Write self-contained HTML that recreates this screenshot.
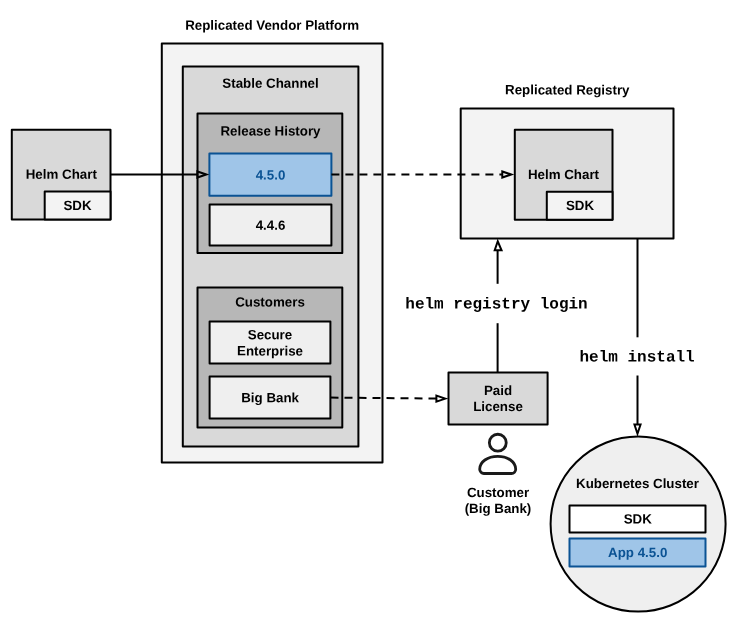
<!DOCTYPE html>
<html>
<head>
<meta charset="utf-8">
<title>Replicated Helm install diagram</title>
<style>
html,body{margin:0;padding:0;background:#fff;}
body{width:747px;height:634px;overflow:hidden;}
svg{display:block;will-change:transform;}
text{font-family:"Liberation Sans",Arial,sans-serif;font-weight:bold;font-size:13.33px;fill:#000;text-anchor:middle;text-rendering:geometricPrecision;}
text.mono{font-family:"Liberation Mono","Courier New",monospace;font-size:16px;}
text.blue{fill:#0b5394;}
.b{stroke:#000;stroke-width:2;stroke-linejoin:round;}
.bl{stroke:#0b5394;stroke-width:2;stroke-linejoin:round;fill:#9fc5e8;}
.l{stroke:#000;stroke-width:2;fill:none;}
.d{stroke:#000;stroke-width:2;fill:none;stroke-dasharray:8 6;}
.a{stroke:#000;stroke-width:2;fill:none;stroke-linejoin:miter;stroke-miterlimit:10;}
.p{stroke:#1a1a1a;stroke-width:2.8;fill:none;stroke-linejoin:round;}
</style>
</head>
<body>
<svg width="747" height="634" viewBox="0 0 747 634">
<rect x="0" y="0" width="747" height="634" fill="#fff"/>
<!-- Vendor platform -->
<text x="272.2" y="29.8" transform="rotate(0.03 272.2 29.8)">Replicated Vendor Platform</text>
<rect class="b" x="161.8" y="43.4" width="220.7" height="419.1" fill="#f3f3f3"/>
<rect class="b" x="182.8" y="66.5" width="175.6" height="380" fill="#d9d9d9"/>
<text x="270.5" y="87.7" transform="rotate(0.03 270.5 87.7)">Stable Channel</text>
<rect class="b" x="197.5" y="113.5" width="144.8" height="139.6" fill="#b7b7b7"/>
<text x="270.5" y="135.5" transform="rotate(0.03 270.5 135.5)">Release History</text>
<rect class="bl" x="209.4" y="153.6" width="122" height="42.2"/>
<text class="blue" x="270.5" y="179.4" transform="rotate(0.03 270.5 179.4)">4.5.0</text>
<rect class="b" x="209.6" y="204.5" width="121.8" height="41" fill="#efefef"/>
<text x="270.5" y="229.7" transform="rotate(0.03 270.5 229.7)">4.4.6</text>
<rect class="b" x="197.5" y="287.5" width="144.8" height="140" fill="#b7b7b7"/>
<text x="270" y="306.5" transform="rotate(0.03 270 306.5)">Customers</text>
<rect class="b" x="209.6" y="321.5" width="120.8" height="42" fill="#efefef"/>
<text x="270" y="339.3" transform="rotate(0.03 270 339.3)">Secure</text>
<text x="270" y="355.4" transform="rotate(0.03 270 355.4)">Enterprise</text>
<rect class="b" x="209.6" y="376.5" width="120.8" height="42" fill="#efefef"/>
<text x="270.1" y="402.2" transform="rotate(0.03 270.1 402.2)">Big Bank</text>
<!-- Helm chart (source) -->
<rect class="b" x="11.8" y="129.65" width="98.7" height="89.75" fill="#d9d9d9"/>
<text x="61.3" y="178.8" transform="rotate(0.03 61.3 178.8)">Helm Chart</text>
<rect class="b" x="44.7" y="191.5" width="65.8" height="27.9" fill="#f3f3f3"/>
<text x="77.5" y="210" transform="rotate(0.03 77.5 210)">SDK</text>
<!-- Registry -->
<text x="567.3" y="94.4" transform="rotate(0.03 567.3 94.4)">Replicated Registry</text>
<rect class="b" x="460.7" y="108.5" width="212.8" height="130" fill="#f3f3f3"/>
<rect class="b" x="514.8" y="129.8" width="97.7" height="89.9" fill="#d9d9d9"/>
<text x="563.5" y="179" transform="rotate(0.03 563.5 179)">Helm Chart</text>
<rect class="b" x="546.8" y="191.7" width="65.7" height="28" fill="#f3f3f3"/>
<text x="580" y="210" transform="rotate(0.03 580 210)">SDK</text>
<!-- Paid license -->
<rect class="b" x="448.5" y="372.5" width="99.1" height="52" fill="#d9d9d9"/>
<text x="498" y="395" transform="rotate(0.03 498 395)">Paid</text>
<text x="498" y="411" transform="rotate(0.03 498 411)">License</text>
<!-- Customer -->
<circle class="p" cx="497.8" cy="442.7" r="8.45"/>
<path class="p" d="M484 473.5 H511.5 a4.2 4.2 0 0 0 4.2 -4.2 c0 -7.6 -7.9 -12.9 -18 -12.9 s-18 5.3 -18 12.9 a4.2 4.2 0 0 0 4.3 4.2 z"/>
<text x="498" y="497" transform="rotate(0.03 498 497)">Customer</text>
<text x="498" y="513" transform="rotate(0.03 498 513)">(Big Bank)</text>
<!-- Cluster -->
<circle cx="638.1" cy="524.1" r="87.5" fill="#efefef" stroke="#000" stroke-width="2"/>
<text x="637.5" y="488" transform="rotate(0.03 637.5 488)">Kubernetes Cluster</text>
<rect class="b" x="569.5" y="505.5" width="136" height="27" fill="#fff"/>
<text x="637.8" y="523.5" transform="rotate(0.03 637.8 523.5)">SDK</text>
<rect class="bl" x="569.5" y="538.5" width="136" height="28"/>
<text class="blue" x="637.7" y="557" transform="rotate(0.03 637.7 557)">App 4.5.0</text>
<!-- Connectors -->
<path class="l" d="M110.5 174.5 H197.4"/>
<path class="a" d="M206.3 174.5 l-8.9 -3.05 v6.1 z"/>
<path class="d" d="M331.4 174.5 H502.3"/>
<path class="a" d="M511.2 174.5 l-8.9 -3.05 v6.1 z"/>
<path class="d" d="M330.5 397.6 L436.4 398.5"/>
<path class="a" d="M445.4 398.6 l-9 -3.05 v6.1 z"/>
<path class="l" d="M497.6 372.5 V323.2"/>
<path class="l" d="M497.6 283.8 V250.3"/>
<path class="a" d="M497.75 241.3 L494.7 250.3 H501.55 Z"/>
<text class="mono" x="496.5" y="308.5" transform="rotate(0.03 496.5 308.5)">helm registry login</text>
<path class="l" d="M637.5 238.5 V337.3"/>
<path class="l" d="M637.5 375.5 V424.6"/>
<path class="a" d="M637.5 433.7 l-3.05 -9.1 h6.1 z"/>
<text class="mono" x="637.1" y="361.5" transform="rotate(0.03 637.1 361.5)">helm install</text>
</svg>
</body>
</html>
